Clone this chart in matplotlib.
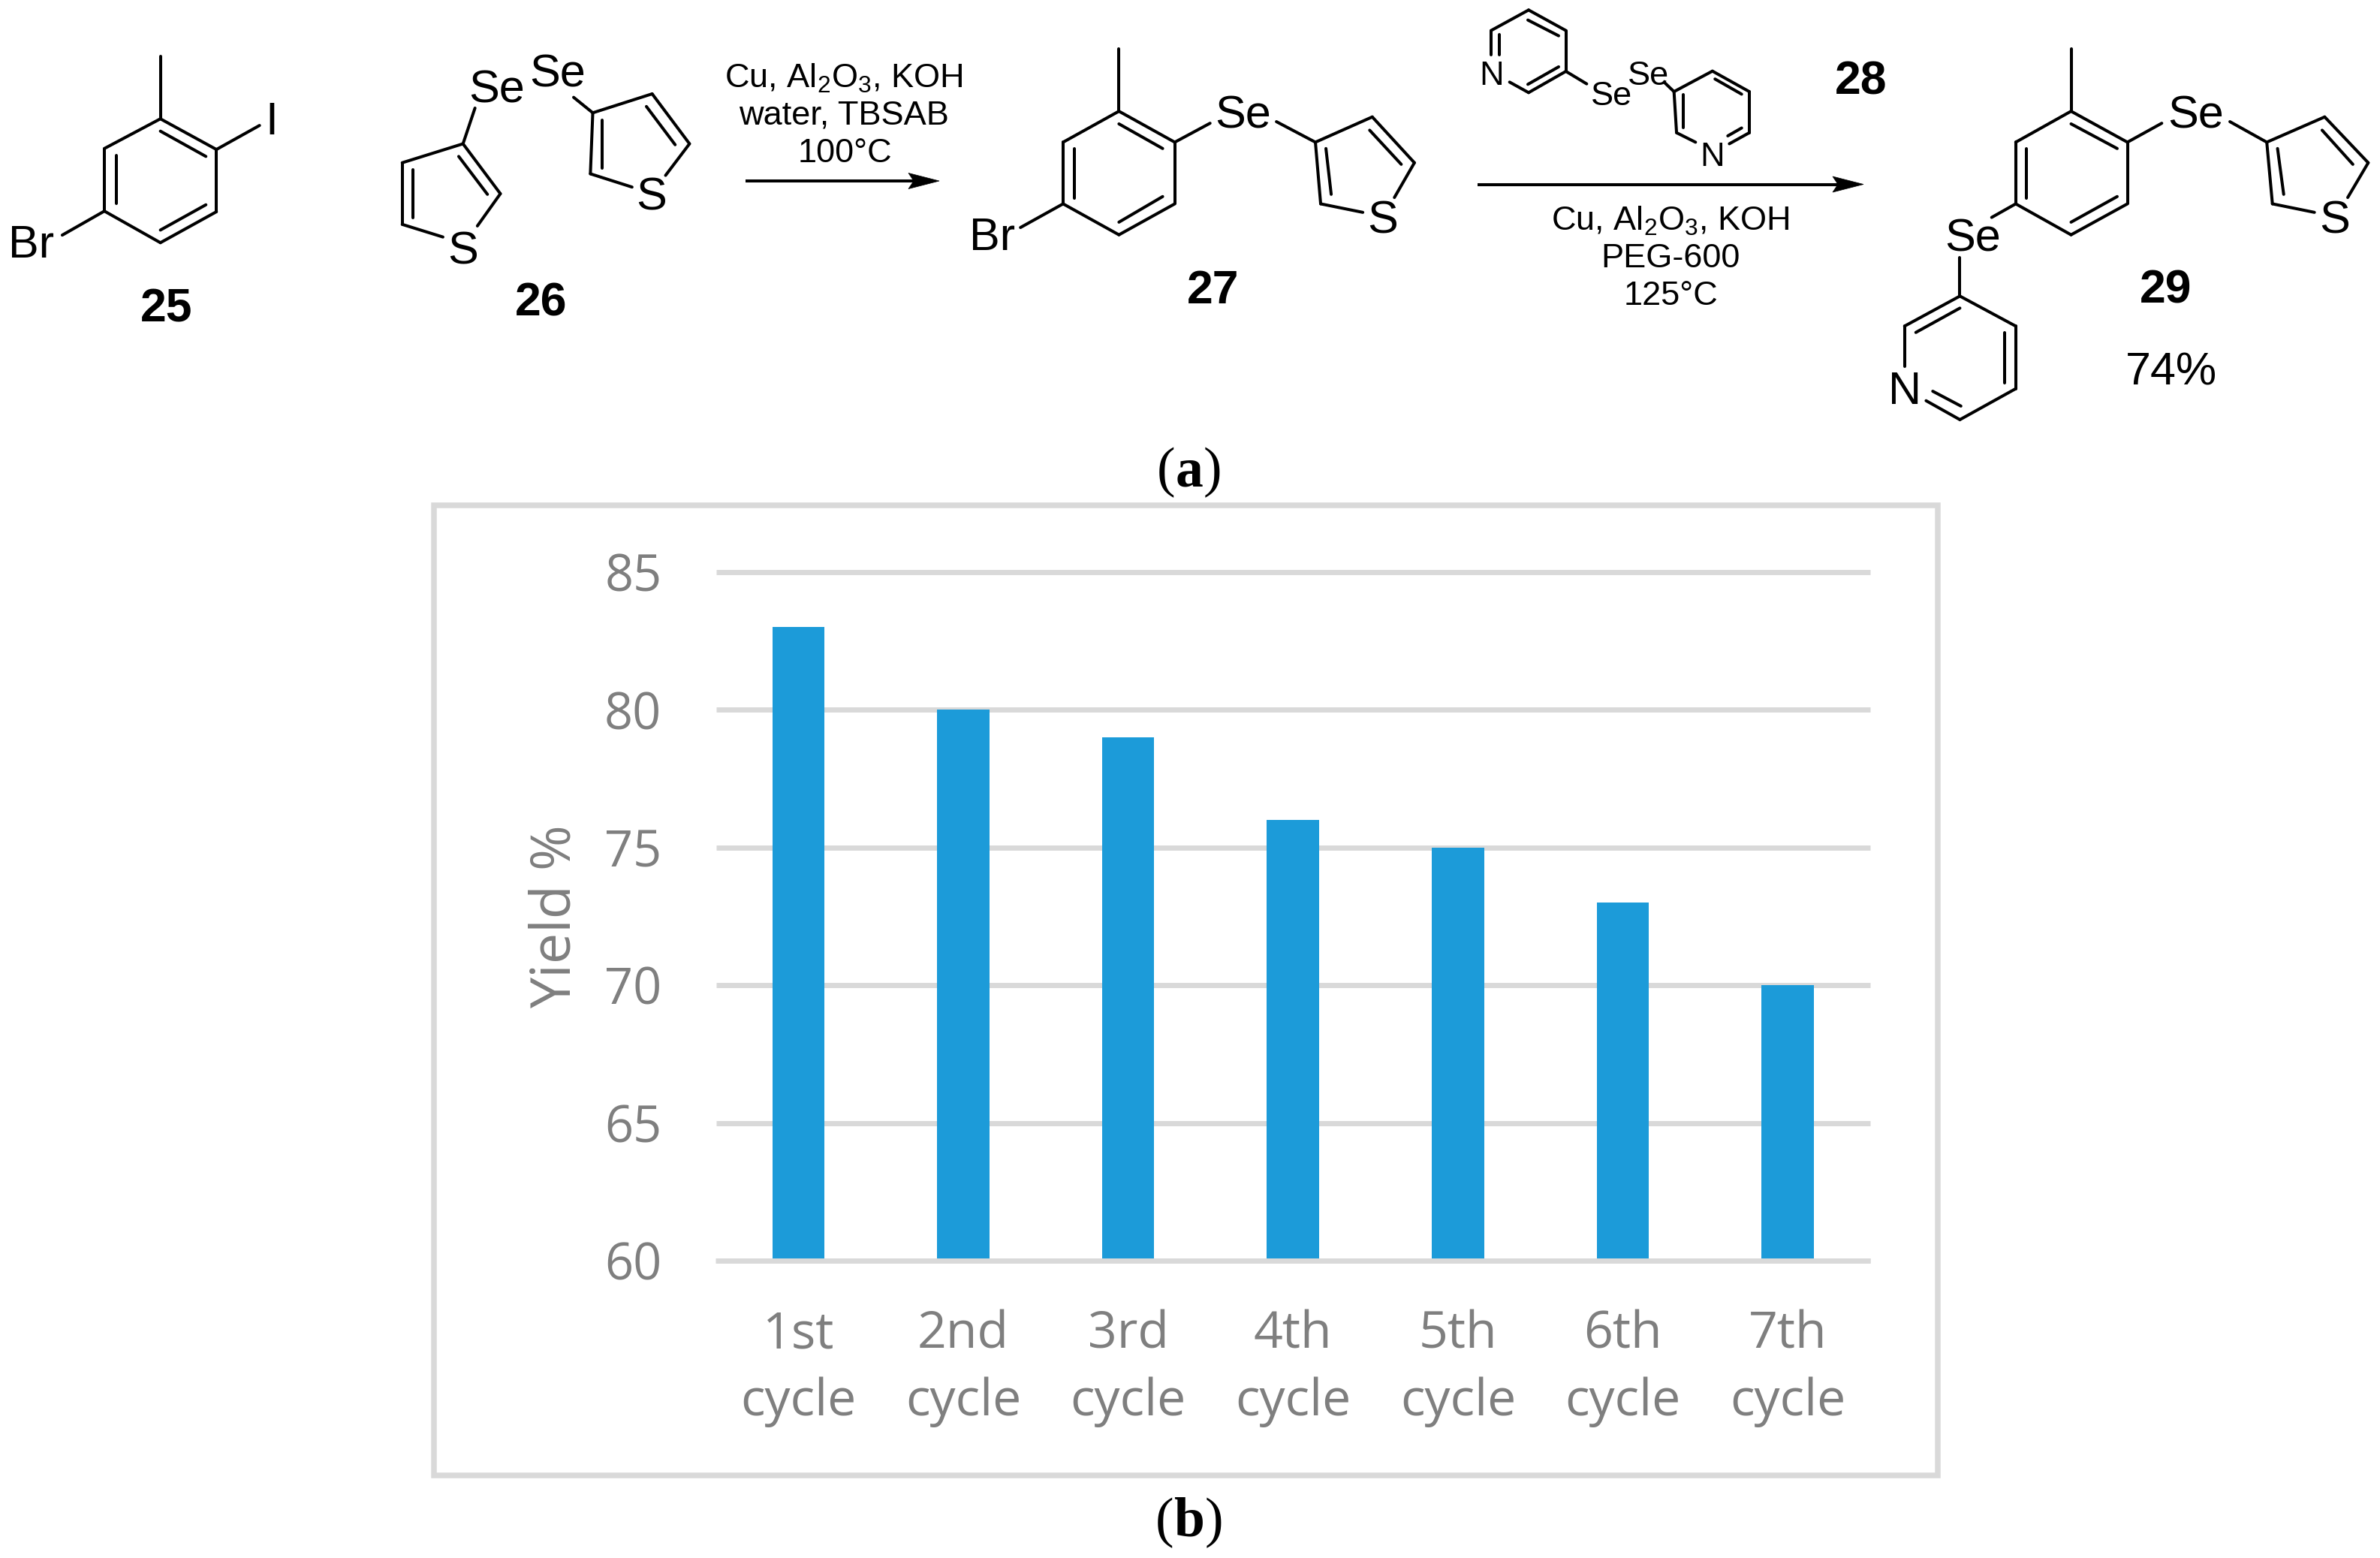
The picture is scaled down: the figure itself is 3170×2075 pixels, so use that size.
import matplotlib
matplotlib.use("Agg")
import matplotlib.pyplot as plt
from matplotlib.patches import Rectangle, Polygon

plt.rcParams['mathtext.fontset'] = 'custom'
plt.rcParams['mathtext.rm'] = 'Liberation Sans'
plt.rcParams['mathtext.default'] = 'regular'

# ---- chart data ----
cycles = ['1st\ncycle', '2nd\ncycle', '3rd\ncycle', '4th\ncycle', '5th\ncycle', '6th\ncycle', '7th\ncycle']
yields = [83, 80, 79, 76, 75, 73, 70]
y_ticks = [60, 65, 70, 75, 80, 85]

W, H = 3170, 2075
fig = plt.figure(figsize=(W / 100, H / 100), dpi=100, facecolor='white')

# ---- scheme layer in pixel space ----
bg = fig.add_axes([0, 0, 1, 1])
bg.set_xlim(0, W)
bg.set_ylim(H, 0)
bg.axis('off')

SANS = 'Liberation Sans'
SERIF = 'Liberation Serif'
BLW = 2.9


def conv(pt, view):
    ox, fx, fy = view
    return pt[0] / fx + ox, pt[1] / fy


def segs(view, lines):
    for a, b in lines:
        p, q = conv(a, view), conv(b, view)
        bg.plot([p[0], q[0]], [p[1], q[1]], color='black', lw=BLW, solid_capstyle='round')


def label(view, pt, s, size=44, weight='normal'):
    x, y = conv(pt, view)
    bg.text(x, y + 5, s, family=SANS, fontsize=size, weight=weight, ha='center', va='center', color='black')


def chain(pts):
    return list(zip(pts[:-1], pts[1:]))


V1 = (0, 1.568, 2.376)
V2 = (1000, 1.4255, 2.376)
V3 = (2100, 1.4654, 2.376)
V5 = (1940, 3.0, 3.0)

# compound 25
segs(V1, [((335, 178), (335, 376))] +
     chain([(335, 376), (452, 473), (452, 670), (335, 768), (218, 668), (218, 470), (335, 376)]) +
     [((335, 415), (430, 495)), ((243, 492), (243, 645)), ((335, 728), (430, 648)),
      ((452, 473), (542, 397)), ((218, 668), (130, 744))])
label(V1, (567, 376), 'I')
label(V1, (65, 766), 'Br')
label(V1, (347, 968), '25', size=45, weight='bold')

# compound 26
segs(V1, chain([(925, 750), (840, 710), (840, 515), (967, 455), (1045, 613), (997, 715)]) +
     [((862, 537), (862, 690)), ((958, 495), (1018, 615)), ((967, 455), (992, 342)),
      ((1198, 308), (1238, 357))] +
     chain([(1320, 592), (1233, 550), (1238, 357), (1362, 297), (1440, 455), (1390, 555)]) +
     [((1257, 380), (1257, 532)), ((1350, 337), (1410, 458))])
label(V1, (1037, 275), 'Se')
label(V1, (1165, 225), 'Se')
label(V1, (967, 787), 'S')
label(V1, (1360, 615), 'S')
label(V1, (1130, 948), '26', size=45, weight='bold')


def arrow(x0, x1, y):
    bg.plot([x0, x1 - 20], [y, y], color='black', lw=BLW, solid_capstyle='butt')
    bg.add_patch(Polygon([(x1, y), (x1 - 41, y - 10.5), (x1 - 34, y), (x1 - 41, y + 10.5)],
                         closed=True, fc='black', ec='black', lw=0.5))


# first arrow and conditions
arrow(993, 1251, 241)
cs = 32.5
reagent = 'Cu, Al$_{2}$O$_{3}$, KOH'
bg.text(1124, 104, reagent, family=SANS, fontsize=cs, ha='center', va='center')
bg.text(1124, 154, 'water, TBSAB', family=SANS, fontsize=cs, ha='center', va='center')
bg.text(1125, 204, '100°C', family=SANS, fontsize=cs, ha='center', va='center')

# compound 27
segs(V2, [((699, 155), (699, 352))] +
     chain([(699, 352), (805, 450), (805, 645), (699, 743), (593, 645), (593, 450), (699, 352)]) +
     [((699, 392), (782, 470)), ((615, 470), (615, 628)), ((699, 703), (782, 622)),
      ((593, 645), (512, 720)), ((805, 450), (872, 390)), ((998, 385), (1072, 450))] +
     chain([(1162, 672), (1082, 645), (1072, 450), (1180, 370), (1260, 515), (1222, 625)]) +
     [((1092, 470), (1102, 615)), ((1175, 412), (1235, 520))])
label(V2, (458, 742), 'Br')
label(V2, (935, 357), 'Se')
label(V2, (1200, 688), 'S')
label(V2, (877, 908), '27', size=45, weight='bold')

# compound 28 above second arrow
segs(V5, chain([(212, 328), (288, 370), (437, 285), (437, 122), (288, 40), (138, 122), (138, 220)]) +
     [((172, 138), (172, 220)), ((285, 80), (408, 143)), ((285, 337), (408, 267)),
      ((437, 285), (520, 335))])
label(V5, (140, 290), 'N', size=32.5)
label(V5, (620, 372), 'Se', size=32.5)
label(V5, (767, 290), 'Se', size=32.5)
segs(V3, chain([(172, 262), (190, 290), (265, 225), (337, 290), (337, 420), (298, 455)]) +
     chain([(190, 290), (195, 420), (232, 450)]) +
     [((208, 300), (208, 405)), ((270, 250), (322, 298)), ((322, 405), (295, 430))])
label(V3, (265, 485), 'N', size=32.5)
label(V3, (555, 247), '28', size=45, weight='bold')

# second arrow and conditions
arrow(1968, 2482, 245.5)
bg.text(2225, 294, reagent, family=SANS, fontsize=cs, ha='center', va='center')
bg.text(2225, 345, 'PEG-600', family=SANS, fontsize=cs, ha='center', va='center')
bg.text(2225, 395, '125°C', family=SANS, fontsize=cs, ha='center', va='center')

# compound 29
segs(V3, [((965, 155), (965, 352))] +
     chain([(965, 352), (1075, 450), (1075, 645), (965, 743), (857, 645), (857, 450), (965, 352)]) +
     [((965, 392), (1055, 470)), ((878, 470), (878, 628)), ((965, 703), (1055, 622)),
      ((1075, 450), (1142, 390)), ((1275, 385), (1347, 450))] +
     chain([(1440, 672), (1358, 645), (1347, 450), (1460, 370), (1545, 515), (1505, 625)]) +
     [((1368, 470), (1380, 615)), ((1455, 412), (1515, 520)),
      ((857, 645), (810, 688)), ((748, 815), (748, 937))] +
     chain([(682, 1268), (748, 1328), (857, 1230), (857, 1032), (748, 937), (640, 1032), (640, 1160)]) +
     [((748, 975), (662, 1052)), ((835, 1052), (835, 1212)), ((750, 1285), (695, 1238))])
label(V3, (1208, 357), 'Se')
label(V3, (1480, 688), 'S')
label(V3, (773, 745), 'Se')
label(V3, (640, 1230), 'N')
label(V3, (1150, 908), '29', size=45, weight='bold')
label(V3, (1160, 1168), '74%')


def panel(cx, y, letter):
    fs = 53
    em = fs * 100 / 72
    adv = 0.556 * em if letter == 'b' else 0.5 * em
    bg.text(cx - adv / 2, y, '(', family=SERIF, fontsize=fs, ha='right', va='baseline')
    bg.text(cx, y, letter, family=SERIF, fontsize=fs, weight='bold', ha='center', va='baseline')
    bg.text(cx + adv / 2, y, ')', family=SERIF, fontsize=fs, ha='left', va='baseline')


panel(1584, 647, 'a')
panel(1584, 2046, 'b')

# chart frame
bg.add_patch(Rectangle((578, 672.5), 2581 - 578, 1965 - 672.5, fc='white', ec='#D9D9D9', lw=5.4))

# ---- bar chart ----
L, R, T, B = 953.5, 2491, 762, 1679
ax = fig.add_axes([L / W, 1 - B / H, (R - L) / W, (B - T) / H])
ax.patch.set_alpha(0)
x = list(range(len(cycles)))
ax.bar(x, yields, width=0.317, color='#1C9BD9', zorder=2)
ax.set_xlim(-0.5, len(cycles) - 0.5)
ax.set_ylim(60, 85)
ax.set_yticks(y_ticks)
ax.set_xticks(x)
ax.set_xticklabels(cycles, family='Open Sans', fontsize=49, color='#7F7F7F', linespacing=1.42)
ax.set_yticklabels([str(v) for v in y_ticks], family='Open Sans', fontsize=48, color='#7F7F7F',
                   va='center_baseline')
ax.tick_params(axis='both', length=0)
ax.tick_params(axis='x', pad=47)
ax.tick_params(axis='y', pad=52)
ax.grid(axis='y', color='#D9D9D9', lw=5, zorder=1)
ax.set_axisbelow(True)
for gl in ax.get_ygridlines():
    gl.set_clip_on(False)
    gl.set_solid_capstyle('butt')
for side in ('top', 'left', 'right'):
    ax.spines[side].set_visible(False)
ax.spines['bottom'].set_color('#D9D9D9')
ax.spines['bottom'].set_linewidth(5)
ax.spines['bottom'].set_capstyle('butt')
bg.text(741, 1221, 'Yield %', family='Open Sans', fontsize=53, color='#7F7F7F',
        rotation=90, ha='center', va='center')

fig.savefig('out.png', dpi=100)
